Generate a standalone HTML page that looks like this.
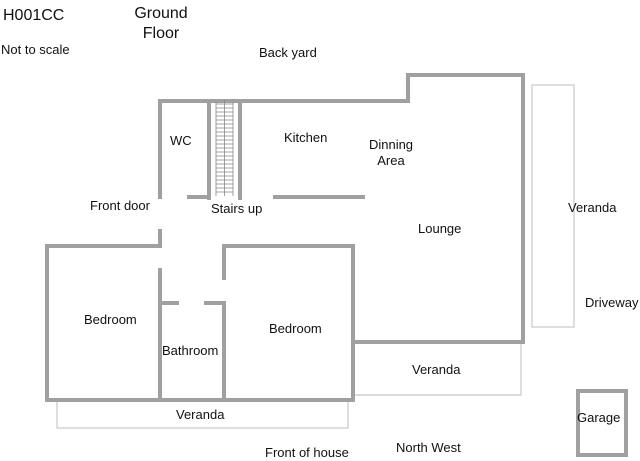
<!DOCTYPE html>
<html><head><style>
html,body{margin:0;padding:0;background:#fff;}
svg{display:block;}
text{font-family:"Liberation Sans",Arial,sans-serif;fill:#111;}
</style></head><body>
<svg width="640" height="461" viewBox="0 0 640 461" xmlns="http://www.w3.org/2000/svg">
<g fill="none" stroke="#c8c8c8" stroke-width="1.2">
<rect x="532" y="85" width="42" height="242"/>
<polyline points="353,342 521,342 521,395 353,395"/>
<rect x="57" y="400" width="291" height="28"/>
</g>
<g fill="none" stroke="#a0a0a0" stroke-width="4" stroke-linecap="square">
<polyline points="160,197 160,101 408,101 408,75 523,75 523,342 353,342"/>
<polyline points="160,231 160,246 47,246 47,400 353,400 353,246 224,246 224,278"/>
<line x1="160" y1="270" x2="160" y2="400"/>
<polyline points="160,303 177,303"/>
<polyline points="206,303 224,303 224,400"/>
<line x1="209" y1="101" x2="209" y2="198"/>
<line x1="240" y1="101" x2="240" y2="198"/>
<line x1="189" y1="197" x2="209" y2="197"/>
<line x1="275" y1="197" x2="363" y2="197"/>
<rect x="578" y="391" width="48" height="64"/>
</g>
<g stroke="#888" stroke-width="0.8">
<line x1="216" y1="102" x2="216" y2="196"/>
<line x1="233" y1="102" x2="233" y2="196"/>
<line x1="224.5" y1="100" x2="224.5" y2="196"/>
<path d="M216,104h17M216,108h17M216,112h17M216,116h17M216,120h17M216,124h17M216,128h17M216,132h17M216,136h17M216,140h17M216,144h17M216,148h17M216,152h17M216,156h17M216,160h17M216,164h17M216,168h17M216,172h17M216,176h17M216,180h17M216,184h17M216,188h17M216,192h17"/>
</g>
<text x="3" y="20" font-size="16">H001CC</text>
<text x="161" y="18" font-size="16" text-anchor="middle">Ground</text>
<text x="161" y="38" font-size="16" text-anchor="middle">Floor</text>
<text x="1" y="54" font-size="13">Not to scale</text>
<text x="259" y="57" font-size="13">Back yard</text>
<text x="170" y="145" font-size="13">WC</text>
<text x="284" y="142" font-size="13">Kitchen</text>
<text x="391" y="149" font-size="13" text-anchor="middle">Dinning</text>
<text x="391" y="165" font-size="13" text-anchor="middle">Area</text>
<text x="90" y="210" font-size="13">Front door</text>
<text x="211" y="213" font-size="13">Stairs up</text>
<text x="418" y="233" font-size="13">Lounge</text>
<text x="568" y="212" font-size="13">Veranda</text>
<text x="585" y="307" font-size="13">Driveway</text>
<text x="84" y="324" font-size="13">Bedroom</text>
<text x="269" y="333" font-size="13">Bedroom</text>
<text x="162" y="355" font-size="13">Bathroom</text>
<text x="412" y="374" font-size="13">Veranda</text>
<text x="176" y="419" font-size="13">Veranda</text>
<text x="577" y="422" font-size="13">Garage</text>
<text x="265" y="457" font-size="13">Front of house</text>
<text x="396" y="452" font-size="13">North West</text>
</svg>
</body></html>
